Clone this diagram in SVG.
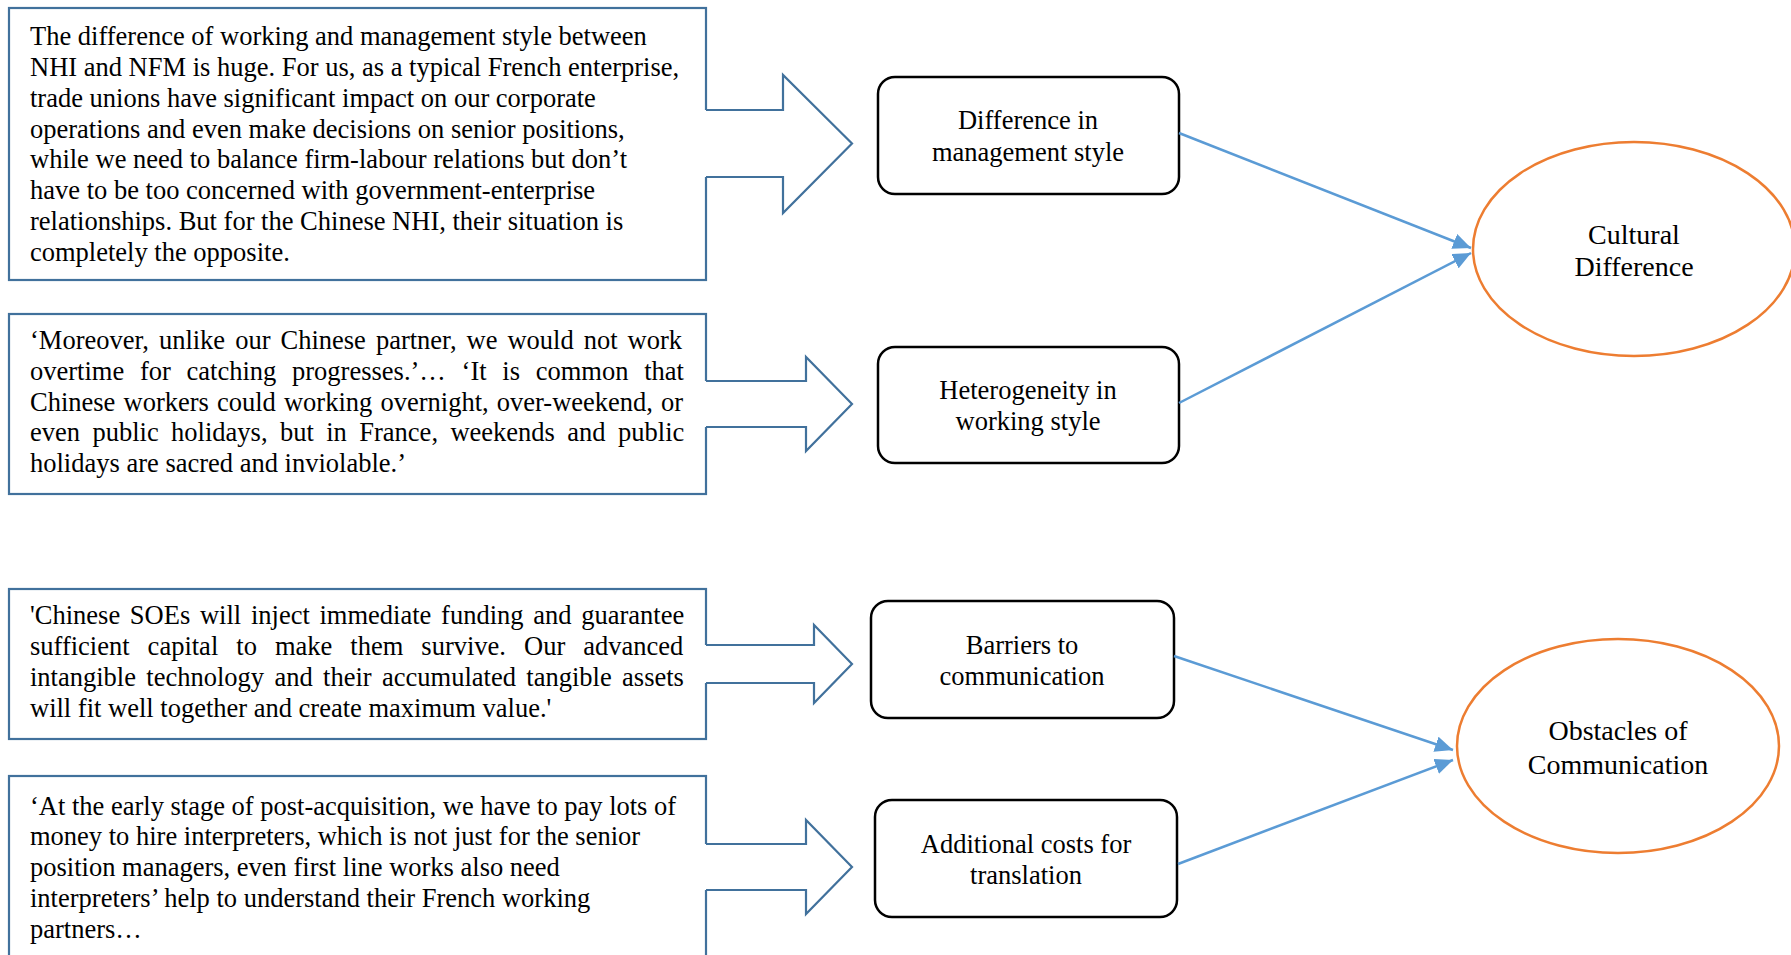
<svg xmlns="http://www.w3.org/2000/svg" width="1791" height="955" viewBox="0 0 1791 955">
<style>
.qbox{fill:#fff;stroke:#41719C;stroke-width:2.2}
.bfill{fill:#fff;stroke:none}
.bline{fill:none;stroke:#41719C;stroke-width:2.2;stroke-linejoin:miter}
.qt{font-family:"Liberation Serif","Times New Roman",serif;font-size:26.5px;fill:#000}
.node{fill:#fff;stroke:#000;stroke-width:2.5}
.nt{font-family:"Liberation Serif","Times New Roman",serif;font-size:26.5px;fill:#000;text-anchor:middle}
.ell{fill:#fff;stroke:#ED7D31;stroke-width:2.5}
.et{font-family:"Liberation Serif","Times New Roman",serif;font-size:28px;fill:#000;text-anchor:middle}
.con{stroke:#5B9BD5;stroke-width:2.5;fill:none}
</style>
<defs>
<marker id="ah" markerUnits="userSpaceOnUse" markerWidth="19" markerHeight="16" refX="18" refY="8" orient="auto">
<path d="M0,0 L18,8 L0,16 z" fill="#5B9BD5"/>
</marker>
</defs>
<rect width="1791" height="955" fill="#fff"/>

<g id="quote1">
<rect class="qbox" x="9" y="8" width="697" height="272"/>
<path class="bfill" d="M702,110 H783 V75 L852,143.5 L783,213 V177 H702 z"/>
<path class="bline" d="M706,110 H783 V75 L852,143.5 L783,213 V177 H706"/>
<text class="qt" x="30" y="45">The difference of working and management style between</text>
<text class="qt" x="30" y="76">NHI and NFM is huge. For us, as a typical French enterprise,</text>
<text class="qt" x="30" y="107">trade unions have significant impact on our corporate</text>
<text class="qt" x="30" y="138">operations and even make decisions on senior positions,</text>
<text class="qt" x="30" y="168">while we need to balance firm-labour relations but don’t</text>
<text class="qt" x="30" y="199">have to be too concerned with government-enterprise</text>
<text class="qt" x="30" y="230">relationships. But for the Chinese NHI, their situation is</text>
<text class="qt" x="30" y="261">completely the opposite.</text>
</g>

<g id="quote2">
<rect class="qbox" x="9" y="314" width="697" height="180"/>
<path class="bfill" d="M702,381 H806 V357 L852,404 L806,451 V427 H702 z"/>
<path class="bline" d="M706,381 H806 V357 L852,404 L806,451 V427 H706"/>
<text class="qt" x="30" y="349" word-spacing="3.4">‘Moreover, unlike our Chinese partner, we would not work</text>
<text class="qt" x="30" y="380" word-spacing="9.1">overtime for catching progresses.’… ‘It is common that</text>
<text class="qt" x="30" y="411" word-spacing="1.5">Chinese workers could working overnight, over-weekend, or</text>
<text class="qt" x="30" y="441" word-spacing="5.8">even public holidays, but in France, weekends and public</text>
<text class="qt" x="30" y="472">holidays are sacred and inviolable.’</text>
</g>

<g id="quote3">
<rect class="qbox" x="9" y="589" width="697" height="150"/>
<path class="bfill" d="M702,645 H814 V625 L852,664 L814,703 V683 H702 z"/>
<path class="bline" d="M706,645 H814 V625 L852,664 L814,703 V683 H706"/>
<text class="qt" x="30" y="624" word-spacing="3.1">'Chinese SOEs will inject immediate funding and guarantee</text>
<text class="qt" x="30" y="655" word-spacing="11.4">sufficient capital to make them survive. Our advanced</text>
<text class="qt" x="30" y="686" word-spacing="3.75">intangible technology and their accumulated tangible assets</text>
<text class="qt" x="30" y="717">will fit well together and create maximum value.'</text>
</g>

<g id="quote4">
<rect class="qbox" x="9" y="776" width="697" height="210"/>
<path class="bfill" d="M702,844 H806 V820 L852,867 L806,914 V890 H702 z"/>
<path class="bline" d="M706,844 H806 V820 L852,867 L806,914 V890 H706"/>
<text class="qt" x="30" y="815">‘At the early stage of post-acquisition, we have to pay lots of</text>
<text class="qt" x="30" y="845">money to hire interpreters, which is not just for the senior</text>
<text class="qt" x="30" y="876">position managers, even first line works also need</text>
<text class="qt" x="30" y="907">interpreters’ help to understand their French working</text>
<text class="qt" x="30" y="938">partners…</text>
</g>

<g id="node-management">
<rect class="node" x="878" y="77" width="301" height="117" rx="17"/>
<text class="nt" x="1028" y="129">Difference in</text>
<text class="nt" x="1028" y="161">management style</text>
</g>

<g id="node-working">
<rect class="node" x="878" y="347" width="301" height="116" rx="17"/>
<text class="nt" x="1028" y="399">Heterogeneity in</text>
<text class="nt" x="1028" y="430">working style</text>
</g>

<g id="node-barriers">
<rect class="node" x="871" y="601" width="303" height="117" rx="17"/>
<text class="nt" x="1022" y="654">Barriers to</text>
<text class="nt" x="1022" y="685">communication</text>
</g>

<g id="node-costs">
<rect class="node" x="875" y="800" width="302" height="117" rx="17"/>
<text class="nt" x="1026" y="853">Additional costs for</text>
<text class="nt" x="1026" y="884">translation</text>
</g>

<g id="node-cultural">
<ellipse class="ell" cx="1634" cy="249" rx="161" ry="107"/>
<text class="et" x="1634" y="244">Cultural</text>
<text class="et" x="1634" y="276">Difference</text>
</g>

<g id="node-obstacles">
<ellipse class="ell" cx="1618" cy="746" rx="161" ry="107"/>
<text class="et" x="1618" y="740">Obstacles of</text>
<text class="et" x="1618" y="774">Communication</text>
</g>

<g id="connectors">
<line class="con" x1="1179" y1="133" x2="1471" y2="248" marker-end="url(#ah)"/>
<line class="con" x1="1179" y1="403" x2="1471" y2="253" marker-end="url(#ah)"/>
<line class="con" x1="1174" y1="656" x2="1453" y2="750" marker-end="url(#ah)"/>
<line class="con" x1="1178" y1="864" x2="1453" y2="760" marker-end="url(#ah)"/>
</g>
</svg>
